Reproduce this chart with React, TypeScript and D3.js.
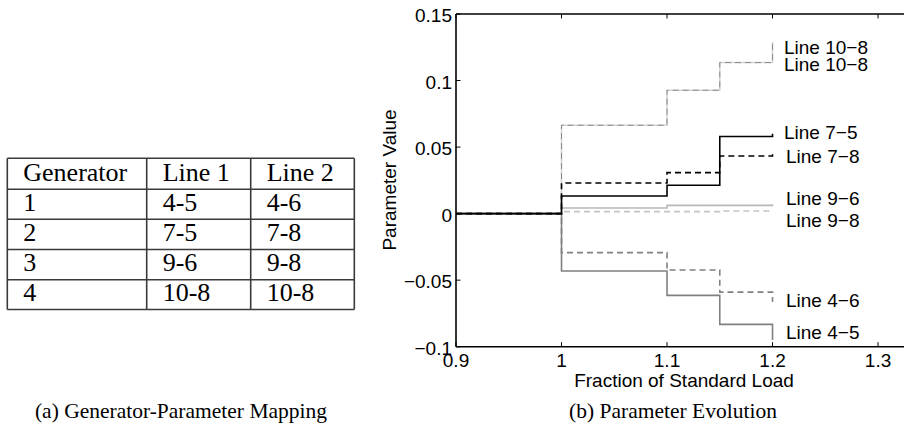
import { useRef, useEffect } from 'react';
import * as d3 from 'd3';

// table (a)
const tableHeader = ['Generator', 'Line 1', 'Line 2'];
const generators = ['1', '2', '3', '4'];
const line1 = ['4-5', '7-5', '9-6', '10-8'];
const line2 = ['4-6', '7-8', '9-8', '10-8'];

// chart (b)
const loads = [0.9, 1.0, 1.1, 1.15, 1.2];
const line45 = [0, -0.0431, -0.0614, -0.0832, -0.095];
const line46 = [0, -0.0293, -0.0424, -0.059, -0.0665];
const line75 = [0, 0.0132, 0.0213, 0.058, 0.06];
const line78 = [0, 0.023, 0.0308, 0.0433, 0.0456];
const line96 = [0, 0.0042, 0.0062, 0.0062, 0.007];
const line98 = [0, 0.0015, 0.0015, 0.002, 0.0022];
const line108 = [0, 0.0664, 0.0927, 0.1135, 0.129];

const xTicks = [0.9, 1, 1.1, 1.2, 1.3];
const yTicks = [0.15, 0.1, 0.05, 0, -0.05, -0.1];

// label text and the value at which its baseline sits
const labelNames = ['Line 10\u22128', 'Line 10\u22128', 'Line 7\u22125', 'Line 7\u22128', 'Line 9\u22126', 'Line 9\u22128', 'Line 4\u22126', 'Line 4\u22125'];
const labelValues = [0.1198, 0.1072, 0.0559, 0.0383, 0.0062, -0.0101, -0.0702, -0.0942];

interface Series {
    values: number[];
    color: string;
    width: number;
    dash: string | null;
}

const series: Series[] = [
    { values: line108, color: '#d4d4d4', width: 1.6, dash: null },
    { values: line108, color: '#8a8a8a', width: 1, dash: '6,4' },
    { values: line96, color: '#b8b8b8', width: 1.6, dash: null },
    { values: line98, color: '#c4c4c4', width: 1.6, dash: '6,4' },
    { values: line45, color: '#808080', width: 1.6, dash: null },
    { values: line46, color: '#808080', width: 1.6, dash: '6,4' },
    { values: line75, color: '#000', width: 1.6, dash: null },
    { values: line78, color: '#000', width: 1.6, dash: '6,4' },
];

const fmt = (v: number) => {
    const s = String(Math.round(v * 1000) / 1000);
    return s.replace('-', '\u2212');
};

export default function App() {
    const svgRef = useRef<SVGSVGElement | null>(null);

    useEffect(() => {
        if (!svgRef.current) return;
        const svg = d3.select(svgRef.current);
        svg.selectAll('*').remove();

        // ---------- table ----------
        const colX = [7.3, 146.7, 250.7, 354.3];
        const rowY = [158.3, 189.3, 219.3, 249.5, 279.7, 309.5];
        const tg = svg.append('g');
        tg.selectAll('line.h')
            .data(rowY)
            .enter().append('line')
            .attr('x1', colX[0]).attr('x2', colX[3])
            .attr('y1', d => d).attr('y2', d => d)
            .attr('stroke', '#3a3a3a').attr('stroke-width', 1.6);
        tg.selectAll('line.v')
            .data(colX)
            .enter().append('line')
            .attr('x1', d => d).attr('x2', d => d)
            .attr('y1', rowY[0]).attr('y2', rowY[5])
            .attr('stroke', '#3a3a3a').attr('stroke-width', 1.6);

        const rows = [tableHeader, ...generators.map((g, i) => [g, line1[i], line2[i]])];
        rows.forEach((r, ri) => {
            r.forEach((cell, ci) => {
                tg.append('text')
                    .attr('x', colX[ci] + 16)
                    .attr('y', rowY[ri + 1] - 8.5)
                    .attr('font-family', '"Liberation Serif", "Times New Roman", serif')
                    .attr('font-size', 26)
                    .text(cell);
            });
        });

        svg.append('text')
            .attr('x', 181).attr('y', 418)
            .attr('text-anchor', 'middle')
            .attr('font-family', '"Liberation Serif", "Times New Roman", serif')
            .attr('font-size', 21.5)
            .text('(a) Generator-Parameter Mapping');

        // ---------- chart ----------
        const font = '"Liberation Sans", Arial, Helvetica, sans-serif';
        const xScale = d3.scaleLinear().domain([0.9, 1.332]).range([456, 911.8]);
        const yScale = d3.scaleLinear().domain([-0.1, 0.15]).range([346.7, 14]);
        const [x0, x1] = xScale.range();
        const [yb, yt] = yScale.range();

        const line = d3.line<number>()
            .x((_, i) => xScale(loads[i]))
            .y(d => yScale(d))
            .curve(d3.curveStepAfter);

        const lg = svg.append('g');
        series.forEach(s => {
            lg.append('path')
                .datum(s.values)
                .attr('fill', 'none')
                .attr('stroke', s.color)
                .attr('stroke-width', s.width)
                .attr('stroke-dasharray', s.dash)
                .attr('d', line);
        });

        // axes box
        const ag = svg.append('g').attr('stroke', '#000').attr('stroke-width', 1.6);
        ag.append('line').attr('x1', x0).attr('x2', x1).attr('y1', yb).attr('y2', yb);
        ag.append('line').attr('x1', x0).attr('x2', x1).attr('y1', yt).attr('y2', yt);
        ag.append('line').attr('x1', x0).attr('x2', x0).attr('y1', yb).attr('y2', yt);

        const tl = 4.5;
        xTicks.forEach(t => {
            ag.append('line').attr('x1', xScale(t)).attr('x2', xScale(t)).attr('y1', yb).attr('y2', yb - tl).attr('stroke-width', 1);
            ag.append('line').attr('x1', xScale(t)).attr('x2', xScale(t)).attr('y1', yt).attr('y2', yt + tl).attr('stroke-width', 1);
            svg.append('text')
                .attr('x', xScale(t)).attr('y', 367)
                .attr('text-anchor', 'middle')
                .attr('font-family', font).attr('font-size', 19)
                .text(fmt(t));
        });
        yTicks.forEach(t => {
            ag.append('line').attr('x1', x0).attr('x2', x0 + tl).attr('y1', yScale(t)).attr('y2', yScale(t)).attr('stroke-width', 1);
            svg.append('text')
                .attr('x', 452).attr('y', yScale(t) + 8)
                .attr('text-anchor', 'end')
                .attr('font-family', font).attr('font-size', 19)
                .text(fmt(t));
        });

        labelNames.forEach((name, i) => {
            svg.append('text')
                .attr('x', xScale(1.2) + (i < 3 ? 11.5 : 13.5))
                .attr('y', yScale(labelValues[i]))
                .attr('font-family', font).attr('font-size', 19)
                .text(name);
        });

        svg.append('text')
            .attr('x', 684).attr('y', 387)
            .attr('text-anchor', 'middle')
            .attr('font-family', font).attr('font-size', 19)
            .text('Fraction of Standard Load');

        svg.append('text')
            .attr('transform', 'translate(396,180) rotate(-90)')
            .attr('text-anchor', 'middle')
            .attr('font-family', font).attr('font-size', 19)
            .text('Parameter Value');

        svg.append('text')
            .attr('x', 673).attr('y', 418)
            .attr('text-anchor', 'middle')
            .attr('font-family', '"Liberation Serif", "Times New Roman", serif')
            .attr('font-size', 21.5)
            .text('(b) Parameter Evolution');
    }, []);

    return (
        <svg ref={svgRef} width={904} height={427} style={{ position: 'absolute', left: 0, top: 0, background: '#fff' }} />
    );
}
